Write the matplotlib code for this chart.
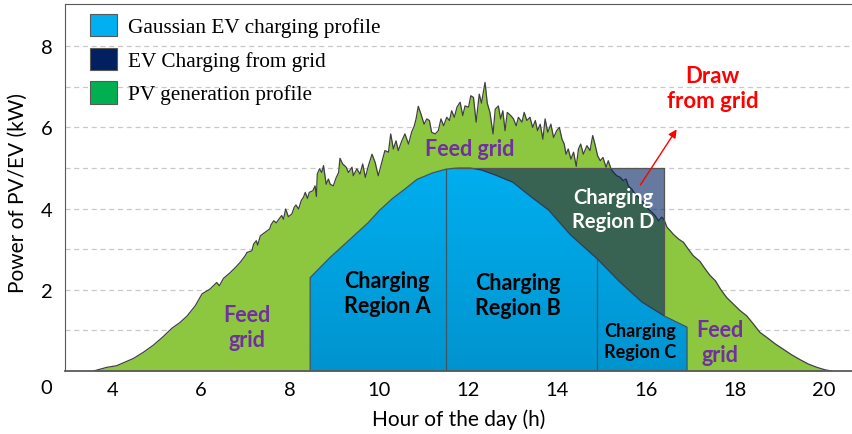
import numpy as np
import matplotlib
matplotlib.use('Agg')
import matplotlib.pyplot as plt
from matplotlib.patches import Patch
from matplotlib.colors import LinearSegmentedColormap

# --- datos ---
pv_hour = [3.58, 3.88, 4.10, 4.25, 4.48, 4.70, 4.93, 5.15, 5.34, 5.53, 5.68, 5.87, 6.02, 6.20, 6.35,
           6.41, 6.50, 6.65, 6.77, 6.88, 6.99, 7.03, 7.14, 7.18, 7.24, 7.27, 7.33, 7.44, 7.54, 7.57,
           7.63, 7.69, 7.74, 7.81, 7.85, 7.90, 7.96, 8.04, 8.09, 8.13, 8.19, 8.25, 8.30, 8.34, 8.39,
           8.43, 8.51, 8.56, 8.59, 8.61, 8.66, 8.71, 8.75, 8.81, 8.86, 8.90, 8.97, 9.03, 9.09, 9.12,
           9.18, 9.26, 9.31, 9.39, 9.42, 9.50, 9.57, 9.63, 9.69, 9.76, 9.84, 9.91, 9.98, 10.06, 10.13,
           10.21, 10.26, 10.32, 10.38, 10.43, 10.51, 10.58, 10.66, 10.73, 10.79, 10.83, 10.88, 10.94,
           11.01, 11.07, 11.13, 11.18, 11.26, 11.33, 11.39, 11.45, 11.52, 11.58, 11.63, 11.69, 11.75,
           11.82, 11.88, 11.93, 12.01, 12.06, 12.12, 12.18, 12.25, 12.30, 12.38, 12.43, 12.49, 12.56,
           12.61, 12.68, 12.73, 12.78, 12.83, 12.88, 12.96, 13.02, 13.08, 13.13, 13.21, 13.26, 13.32,
           13.39, 13.45, 13.51, 13.56, 13.62, 13.68, 13.73, 13.79, 13.86, 13.92, 13.99, 14.05, 14.11,
           14.16, 14.20, 14.25, 14.31, 14.37, 14.43, 14.48, 14.53, 14.59, 14.67, 14.74, 14.80, 14.85,
           14.91, 14.97, 15.03, 15.10, 15.15, 15.21, 15.27, 15.34, 15.42, 15.48, 15.55, 15.60, 15.68,
           15.75, 15.83, 15.90, 15.98, 16.05, 16.13, 16.20, 16.28, 16.35, 16.40, 16.47, 16.54, 16.61,
           16.73, 16.84, 16.95, 17.06, 17.21, 17.33, 17.44, 17.56, 17.67, 17.81, 17.96, 18.11, 18.26,
           18.41, 18.56, 18.71, 18.90, 19.09, 19.27, 19.46, 19.65, 19.84, 20.02, 20.17]
pv_kw = [0.00, 0.09, 0.13, 0.20, 0.31, 0.46, 0.64, 0.85, 1.05, 1.20, 1.35, 1.61, 1.90, 2.02, 2.18,
         2.10, 2.28, 2.42, 2.55, 2.68, 2.84, 2.92, 2.96, 3.13, 3.21, 3.10, 3.33, 3.42, 3.50, 3.60,
         3.70, 3.65, 3.73, 3.83, 3.74, 3.99, 3.80, 3.87, 4.03, 4.09, 3.99, 4.20, 4.28, 4.40, 4.25,
         4.40, 4.44, 4.56, 4.30, 4.85, 4.98, 4.89, 5.06, 4.60, 4.73, 4.60, 4.56, 4.75, 4.89, 5.24,
         5.10, 5.02, 4.89, 5.02, 4.81, 4.98, 4.85, 5.10, 4.77, 5.06, 5.34, 5.14, 4.81, 5.14, 5.43,
         5.39, 5.84, 5.47, 5.67, 5.43, 5.67, 5.84, 5.59, 5.88, 6.04, 6.21, 6.52, 6.33,
         6.08, 6.21, 6.17, 5.88, 5.84, 5.92, 6.21, 6.04, 6.25, 6.17, 6.41, 6.25, 6.50,
         6.62, 6.29, 6.53, 6.50, 6.78, 6.74, 6.13, 6.82, 6.60, 7.11, 6.60, 6.37, 5.84,
         6.45, 6.53, 6.21, 6.41, 5.92, 6.37, 6.29, 6.21, 6.04, 6.25, 6.13, 6.37, 6.17,
         6.25, 6.00, 6.17, 5.92, 6.08, 5.71, 6.21, 5.88, 6.08, 5.75, 5.92, 6.00, 5.71,
         5.59, 5.34, 5.47, 5.22, 5.39, 5.04, 5.47, 5.59, 5.34, 5.55, 5.43, 5.80, 5.59,
         5.30, 5.18, 5.26, 5.02, 5.18, 4.98, 4.89, 4.81, 4.77, 4.69, 4.73, 4.56, 4.48,
         4.36, 4.28, 4.19, 4.11, 3.99, 3.91, 3.83, 3.70, 3.79, 3.74, 3.54, 3.46, 3.37,
         3.25, 3.17, 3.00, 2.84, 2.70, 2.51, 2.35, 2.22, 2.02, 1.81, 1.65, 1.49, 1.36,
         1.16, 0.95, 0.83, 0.67, 0.53, 0.40, 0.28, 0.17, 0.09, 0.03, 0.00]

ev_hour = [8.45, 8.45, 8.9, 9.35, 9.75, 10.0, 10.3, 10.6, 10.85, 11.2, 11.5, 11.65, 11.8, 12.05,
           12.3, 12.6, 13.0, 13.4, 13.8, 14.3, 14.9, 15.4, 15.9, 16.4, 16.92, 16.92]
ev_kw = [0.0, 2.3, 2.8, 3.25, 3.65, 3.95, 4.25, 4.5, 4.72, 4.88, 4.97, 4.99, 5.0, 5.0,
         4.95, 4.83, 4.65, 4.3, 3.97, 3.35, 2.76, 2.2, 1.7, 1.36, 1.08, 0.0]

region_bounds = [11.5, 14.9]      # separaciones entre regiones A/B y B/C
grid_start, grid_end = 11.65, 16.4  # region D (carga desde la red)
ev_cap = 5.0

pv_hour = np.array(pv_hour); pv_kw = np.array(pv_kw)
ev_hour = np.array(ev_hour); ev_kw = np.array(ev_kw)

plt.rcParams['font.family'] = ['Lato', 'DejaVu Sans']

fig = plt.figure(figsize=(8.53, 4.35), dpi=100)
ax = fig.add_axes([0.0762, 0.1448, 0.9238, 0.8437])

# rejilla
ax.set_yticks(range(1, 9))
ax.set_yticklabels(['', '2', '', '4', '', '6', '', '8'])
ax.yaxis.grid(True, color='#C8C8C8', linestyle=(0, (4, 3)), linewidth=0.9)
ax.set_axisbelow(True)
ax.set_xticks(range(4, 21, 2))
ax.tick_params(axis='both', length=0, labelsize=14.5, colors='black')
ax.tick_params(axis='x', pad=7)
ax.tick_params(axis='y', pad=9)
ax.annotate('0', xy=(0, 0), xycoords=('axes fraction', 'data'), xytext=(-9, -12),
            textcoords='offset points', ha='right', va='center', fontsize=14.5)

# perfil PV
ax.fill_between(pv_hour, pv_kw, 0, color='#8DC63F', lw=0, zorder=1)
ax.plot(pv_hour, pv_kw, color='#404040', lw=0.9, zorder=2.5)

# perfil EV con degradado
poly = ax.fill_between(ev_hour, ev_kw, 0, color='none', lw=0, zorder=2)
cmap = LinearSegmentedColormap.from_list('ev', ['#0094CF', '#00AEEF'])
grad = np.linspace(0, 1, 256).reshape(-1, 1)
img = ax.imshow(grad, extent=[8.3, 17.0, 0, ev_cap], origin='lower', cmap=cmap,
                aspect='auto', zorder=2)
img.set_clip_path(poly.get_paths()[0], transform=ax.transData)
ax.plot(ev_hour, ev_kw, color='#3C5666', lw=0.9, zorder=2.6)
for xb in region_bounds:
    ax.plot([xb, xb], [0, np.interp(xb, ev_hour, ev_kw)], color='#3C5666', lw=0.9, zorder=2.6)

# carga desde la red
mask = (ev_hour >= grid_start) & (ev_hour <= grid_end)
ax.fill_between(ev_hour, ev_kw, ev_cap, where=mask, color='#002060', alpha=0.6, lw=0, zorder=3)
ax.plot([grid_start, grid_end, grid_end], [ev_cap, ev_cap, np.interp(grid_end, ev_hour, ev_kw)],
        color='#555555', lw=0.9, zorder=3.1)

ax.set_xlim(2.94, 20.65)
ax.set_ylim(0, 9.04)

# textos
bold = dict(fontweight='bold', ha='center', va='center', linespacing=1.25, zorder=5)
purple = '#7030A0'
ax.text(7.03, 1.08, 'Feed\ngrid', color=purple, fontsize=15.5, **bold)
ax.text(12.04, 5.47, 'Feed grid', color=purple, fontsize=15.5, **bold)
ax.text(17.66, 0.71, 'Feed\ngrid', color=purple, fontsize=15.5, **bold)
ax.text(10.18, 1.92, 'Charging\nRegion A', color='black', fontsize=15.5, **bold)
ax.text(13.12, 1.87, 'Charging\nRegion B', color='black', fontsize=15.5, **bold)
ax.text(15.87, 0.74, 'Charging\nRegion C', color='black', fontsize=13, **bold)
ax.text(15.26, 3.99, 'Charging\nRegion D', color='white', fontsize=14.5, **bold)
ax.text(17.5, 6.97, 'Draw\nfrom grid', color='#FF0000', fontsize=16, **bold)
ax.annotate('', xy=(16.72, 6.01), xytext=(15.84, 4.53),
            arrowprops=dict(arrowstyle='-|>', color='#FF0000', lw=1, mutation_scale=12), zorder=5)

# ejes
for side in ['top', 'left', 'bottom']:
    ax.spines[side].set_color('#595959')
    ax.spines[side].set_zorder(6)
ax.spines['bottom'].set_linewidth(1.3)
ax.spines['right'].set_visible(False)

ax.set_xlabel('Hour of the day (h)', fontsize=15, labelpad=8)
ax.set_ylabel('Power of PV/EV (kW)', fontsize=15)
ax.yaxis.set_label_coords(-0.047, 0.487)

handles = [Patch(facecolor='#00B0F0', edgecolor='#595959', lw=0.8),
           Patch(facecolor='#002060', edgecolor='#595959', lw=0.8),
           Patch(facecolor='#00B050', edgecolor='#595959', lw=0.8)]
labels = ['Gaussian EV charging profile', 'EV Charging from grid', 'PV generation profile']
ax.legend(handles, labels, loc='upper left', bbox_to_anchor=(0.008, 1.025), frameon=False,
          prop={'family': 'Liberation Serif', 'size': 15.3}, handlelength=1.25, handleheight=1.25,
          handletextpad=0.5, labelspacing=0.48)

fig.savefig('out.png', dpi=100)
